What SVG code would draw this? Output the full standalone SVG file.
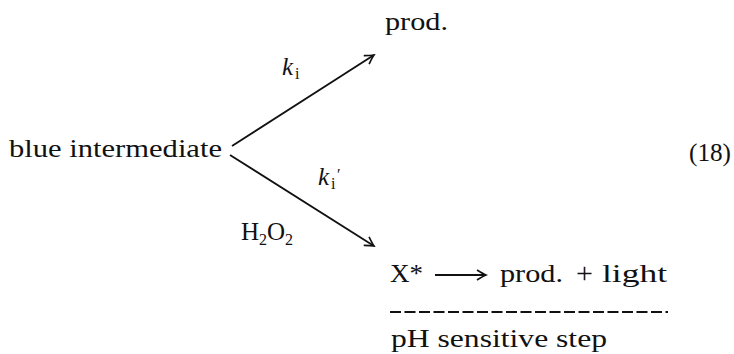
<svg xmlns="http://www.w3.org/2000/svg" width="734" height="354" viewBox="0 0 734 354">
<style>
text{font-family:"Liberation Serif","Times New Roman",serif;font-size:25px;fill:#111}
.it{font-style:italic}
.sub{font-size:16px}
.ln{stroke:#111;stroke-width:1.8;fill:none}
</style>
<defs>
<marker id="ah" viewBox="-10 -6 12 12" markerWidth="12" markerHeight="12" refX="0" refY="0" orient="auto" markerUnits="userSpaceOnUse">
<path d="M-9,-5 Q-3,-1.2 0,0 Q-3,1.2 -9,5" stroke="#111" stroke-width="1.6" fill="none"/>
</marker>
</defs>
<rect width="734" height="354" fill="#fff"/>
<g id="blue-intermediate"><text x="9" y="157" textLength="213" lengthAdjust="spacingAndGlyphs">blue intermediate</text></g>
<g id="prod-top"><text x="385" y="30" textLength="63" lengthAdjust="spacingAndGlyphs">prod.</text></g>
<g id="eq-number"><text x="689" y="161" textLength="42" lengthAdjust="spacingAndGlyphs">(18)</text></g>
<g id="label-ki"><text x="282" y="75" class="it">k</text><text x="295" y="79" class="sub">i</text></g>
<g id="label-ki-prime"><text x="318" y="185" class="it">k</text><text x="331" y="189" class="sub">i</text><text x="337" y="180" class="sub">′</text></g>
<g id="label-h2o2"><text x="241" y="240">H</text><text x="259" y="245" class="sub">2</text><text x="267" y="240">O</text><text x="285" y="245" class="sub">2</text></g>
<g id="x-star-line">
<text x="390" y="282" textLength="33" lengthAdjust="spacingAndGlyphs">X*</text>
<text x="500" y="282" textLength="63" lengthAdjust="spacingAndGlyphs">prod.</text>
<text x="576" y="283" style="font-size:30px">+</text>
<text x="602" y="282" textLength="65" lengthAdjust="spacingAndGlyphs">light</text>
</g>
<g id="ph-step"><text x="391" y="347" textLength="216" lengthAdjust="spacingAndGlyphs">pH sensitive step</text></g>
<g id="connectors">
<line class="ln" x1="232" y1="146" x2="374" y2="55" marker-end="url(#ah)"/>
<line class="ln" x1="230" y1="155" x2="374" y2="246" marker-end="url(#ah)"/>
<line class="ln" x1="435" y1="275" x2="486" y2="275" marker-end="url(#ah)"/>
<line class="ln" x1="390" y1="312" x2="668" y2="312" stroke-dasharray="11 3.5" stroke-width="1.5"/>
</g>
</svg>
